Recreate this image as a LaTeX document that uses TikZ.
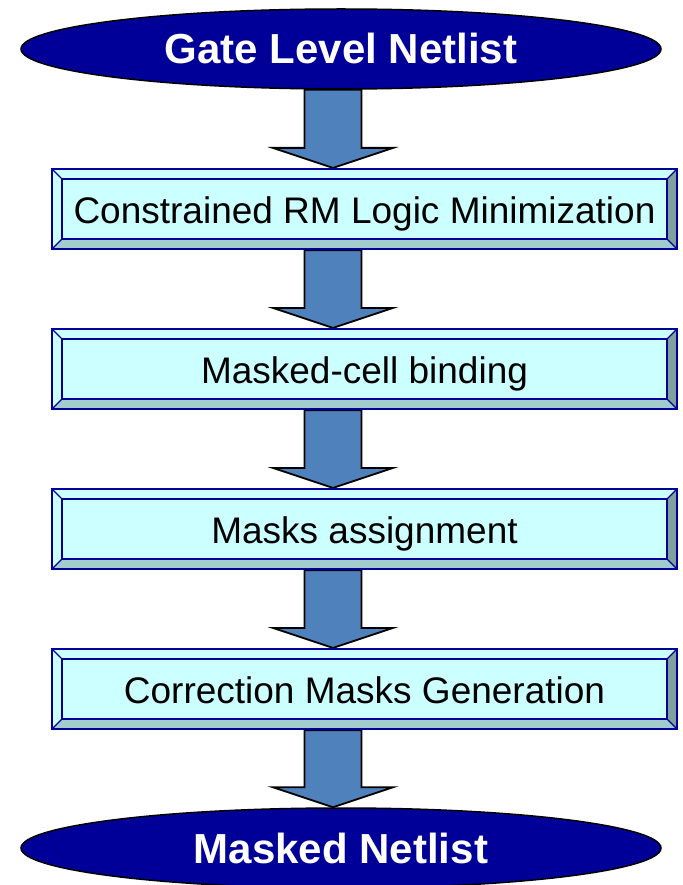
\documentclass[tikz,border=0pt]{standalone}
\usepackage{fontspec}
\setmainfont{Liberation Sans}
\usetikzlibrary{shapes.geometric,calc,backgrounds}

\definecolor{navy}{HTML}{000099}
\definecolor{face}{HTML}{CCFFFF}
\definecolor{bevellow}{HTML}{A3CCCC}
\definecolor{bevelright}{HTML}{809F9F}
\definecolor{arrowfill}{HTML}{4F81BD}

\tikzset{
  terminal/.style={ellipse, minimum width=640pt, minimum height=80pt, inner sep=0pt,
    fill=navy, draw=black, line width=1.5pt, text=white,
    font=\bfseries\fontsize{42}{46}\selectfont, text height=30pt, text depth=0pt},
  bevelbox/.style={rectangle, minimum width=625pt, minimum height=80pt, inner sep=0pt,
    fill=face, draw=navy, line width=2.2pt, text=black,
    font=\fontsize{37}{42}\selectfont, text height=28pt, text depth=0pt,
    path picture={
      \coordinate (sw) at (path picture bounding box.south west);
      \coordinate (se) at (path picture bounding box.south east);
      \coordinate (ne) at (path picture bounding box.north east);
      \coordinate (nw) at (path picture bounding box.north west);
      \fill[bevellow] (sw) -- (se) -- ($(se)+(-10pt,10pt)$) -- ($(sw)+(10pt,10pt)$) -- cycle;
      \fill[bevelright] (se) -- (ne) -- ($(ne)+(-10pt,-10pt)$) -- ($(se)+(-10pt,10pt)$) -- cycle;
      \draw[navy, line width=1.6pt] ($(sw)+(10pt,10pt)$) rectangle ($(ne)+(-10pt,-10pt)$);
      \draw[navy, line width=1.2pt] (sw) -- ++(10pt,10pt) (se) -- ++(-10pt,10pt)
        (ne) -- ++(-10pt,-10pt) (nw) -- ++(10pt,-10pt);
    }},
  flow/.style={fill=arrowfill, draw=black, line width=1.8pt, line join=miter}
}

% block arrow running down the axis from one node to the next
\newcommand\flowarrow[2]{%
  \draw[flow] ($(axis |- #1.south)+(-28.5,0)$) -- ($(axis |- #2.north)+(-28.5,-20)$)
    -- ($(axis |- #2.north)+(-60,-20)$) -- (axis |- #2.north)
    -- ($(axis |- #2.north)+(60,-20)$) -- ($(axis |- #2.north)+(28.5,-20)$)
    -- ($(axis |- #1.south)+(28.5,0)$) -- cycle;}

\begin{document}
\begin{tikzpicture}[x=1pt,y=-1pt]
  \useasboundingbox (0,0) rectangle (682,885);
  \coordinate (axis) at (333,0);

  \node[terminal] (netin) at (341,49) {Gate Level Netlist};
  \node[bevelbox] (rm) at (364.5,209) {Constrained RM Logic Minimization};
  \node[bevelbox] (bind) at (364.5,369) {Masked-cell binding};
  \node[bevelbox] (assign) at (364.5,529) {Masks assignment};
  \node[bevelbox] (corr) at (364.5,689) {Correction Masks Generation};
  \node[terminal] (netout) at (341,848) {Masked Netlist};

  \begin{scope}[on background layer]
    \flowarrow{netin}{rm}
    \flowarrow{rm}{bind}
    \flowarrow{bind}{assign}
    \flowarrow{assign}{corr}
    \flowarrow{corr}{netout}
  \end{scope}
\end{tikzpicture}
\end{document}
